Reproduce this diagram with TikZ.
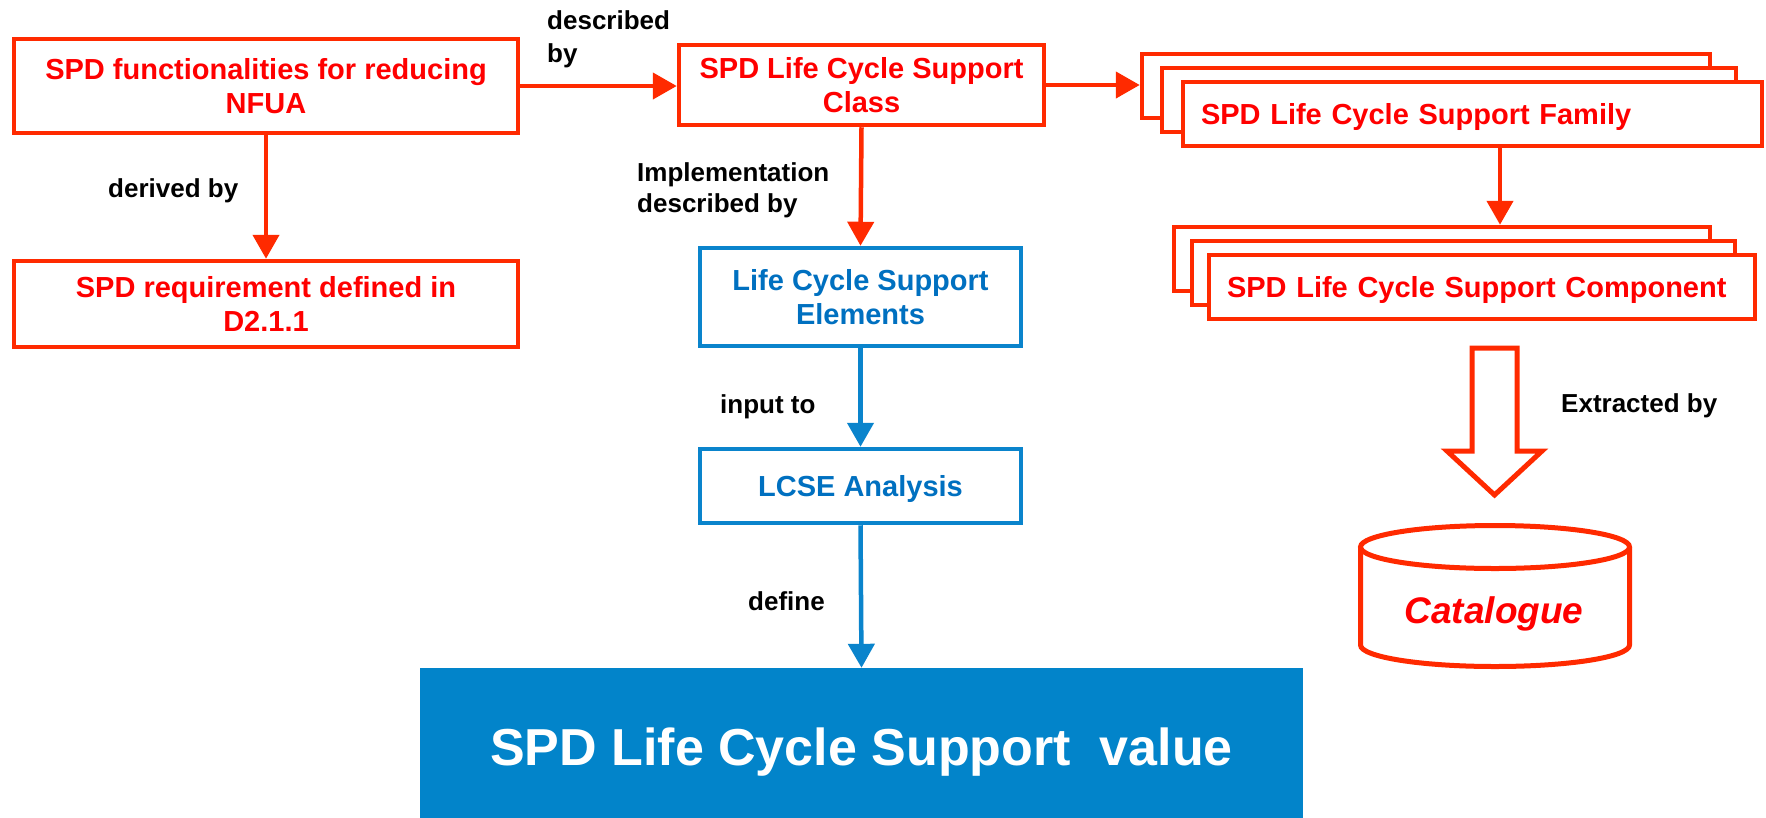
\documentclass[tikz,border=0pt]{standalone}
\usepackage{fontspec}
\setmainfont{Liberation Sans}
\usetikzlibrary{arrows.meta}

\definecolor{bordred}{RGB}{255,42,0}
\definecolor{txtred}{RGB}{255,0,0}
\definecolor{bordblue}{RGB}{10,132,204}
\definecolor{txtblue}{RGB}{0,112,192}
\definecolor{valblue}{RGB}{2,132,202}

\newcommand\boxfont{\fontsize{29}{34}\selectfont\bfseries}
\newcommand\lblfont{\fontsize{26}{32}\selectfont\bfseries}

\tikzset{
  redbox/.style={draw=bordred, line width=4.5pt, fill=white, inner sep=0pt,
    text=txtred, font=\boxfont, align=center},
  bluebox/.style={draw=bordblue, line width=4.5pt, fill=white, inner sep=0pt,
    text=txtblue, font=\boxfont, align=center},
  stackbox/.style={redbox, minimum height=64pt},
  stackfront/.style={stackbox, align=left, text depth=0pt, inner xsep=18pt},
  redarrow/.style={draw=bordred, line width=4.5pt,
    -{Triangle[length=24pt,width=26pt]}},
  bluearrow/.style={draw=bordblue, line width=4.5pt,
    -{Triangle[length=24pt,width=26pt]}},
  lbl/.style={font=\lblfont, text=black, align=left, inner sep=0pt, anchor=base west},
  redline/.style={draw=bordred, line width=5pt}
}

\begin{document}
\begin{tikzpicture}[x=1pt,y=-1pt]
\useasboundingbox (0,0) rectangle (1766,817);

% left column
\node[redbox, minimum width=504pt, minimum height=94pt] (fun) at (266,86)
  {SPD functionalities for reducing\\NFUA};
\node[redbox, minimum width=504pt, minimum height=86pt] (req) at (266,304)
  {SPD requirement defined in\\D2.1.1};

% middle column
\node[redbox, minimum width=365pt, minimum height=80pt] (cls) at (861.5,85)
  {SPD Life Cycle Support\\Class};
\node[bluebox, minimum width=321pt, minimum height=98pt] (elm) at (860.5,297)
  {Life Cycle Support\\Elements};
\node[bluebox, minimum width=321pt, minimum height=74pt, text depth=0pt] (lcse) at (860.5,486)
  {LCSE Analysis};
\node[fill=valblue, text=white, inner sep=0pt, minimum width=883pt, minimum height=156pt,
  font=\fontsize{52}{60}\selectfont\bfseries, text height=38pt, text depth=0pt]
  (val) at (861.5,746) {SPD Life Cycle Support~~value};

% family stack
\node[stackbox, minimum width=568pt] (famback) at (1426,86) {};
\node[stackbox, minimum width=574pt] (fammid) at (1449,100) {};
\node[stackfront, text width=543pt] (fam) at (1472.5,114)
  {SPD Life Cycle Support Family};

% component stack
\node[stackbox, minimum width=536pt] (compback) at (1442,259) {};
\node[stackbox, minimum width=543pt] (compmid) at (1463.5,273) {};
\node[stackfront, text width=510pt] (comp) at (1482,287)
  {SPD Life Cycle Support Component};

% connectors
\draw[redarrow] (fun.south) -- (req.north);
\draw[redarrow] (fun.east) -- (fun.east -| cls.west);
\draw[redarrow] (cls.east) -- (cls.east -| famback.west);
\draw[redarrow] (cls.south) -- (elm.north);
\draw[redarrow] ([xshift=27.5pt]fam.south) -- ([xshift=27.5pt]fam.south |- compback.north);
\draw[bluearrow] (elm.south) -- (lcse.north);
\draw[bluearrow] (lcse.south) -- (val.north);

% connector labels (base anchor sits on the last line)
\node[lbl, font=\fontsize{26}{33}\selectfont\bfseries] (lbdesc) at (547,62) {described\\by};
\node[lbl] (lbderiv) at (108,197) {derived by};
\node[lbl, font=\fontsize{26}{31}\selectfont\bfseries] (lbimpl) at (637,212)
  {Implementation\\described by};
\node[lbl] (lbinput) at (720,413) {input to};
\node[lbl] (lbdef) at (748,610) {define};
\node[lbl] (lbextr) at (1561,412) {Extracted by};

% extraction block arrow
\draw[redline, fill=white] (1472,348) -- (1517,348) -- (1517,451) -- (1542,451)
  -- (1494.5,495) -- (1447,451) -- (1472,451) -- cycle;

% catalogue cylinder
\draw[redline, fill=white] (1360.5,547) -- (1360.5,645)
  arc[start angle=180, end angle=0, x radius=134.5, y radius=21.5]
  -- (1629.5,547);
\draw[redline] (1495,547) ellipse[x radius=134.5, y radius=21.5];
\node[text=txtred, inner sep=0pt, anchor=base,
  font=\fontsize{37}{44}\selectfont\bfseries\itshape] (cat) at (1494,623) {Catalogue};
\end{tikzpicture}
\end{document}
